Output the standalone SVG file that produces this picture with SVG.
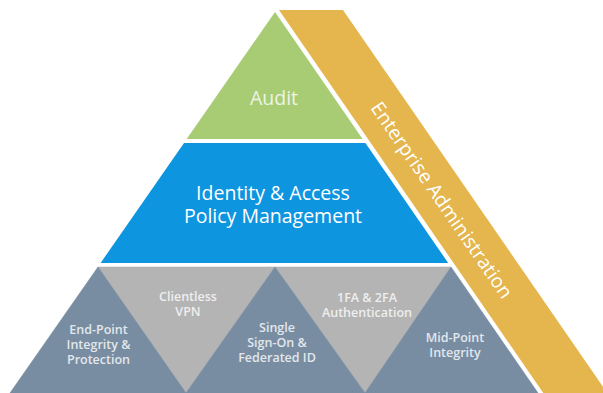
<svg xmlns="http://www.w3.org/2000/svg" width="603" height="393" viewBox="0 0 603 393">
<style>
.t{font-family:"Open Sans","Noto Sans","Liberation Sans",sans-serif;text-anchor:middle}
.big{font-size:19.5px;fill:#ffffff}
.aud{font-size:19.5px;fill:#eef4e4}
.sm{font-size:12.5px;font-weight:600}
.onslate{fill:#e2e7ec}
.ongray{fill:#eeeeee}
.green{fill:#a7cc74}
.blue{fill:#0e95e0}
.slate{fill:#788da2;stroke:#788da2;stroke-width:0.6}
.gray{fill:#b4b4b4;stroke:#b4b4b4;stroke-width:0.6}
.gold{fill:#e4b64d}
</style>
<rect width="603" height="393" fill="#ffffff"/>
<g id="enterprise-administration">
<polygon class="gold" points="279,10 343,10 607.3,393 543.3,393"/>
<text class="t big" transform="translate(442,200) rotate(55.4)" y="7">Enterprise Administration</text>
</g>
<g id="audit">
<polygon class="green" points="275,12 362.6,139 186.7,139"/>
<text class="t aud" x="274" y="104.5">Audit</text>
</g>
<g id="identity-access">
<polygon class="blue" points="184,143 365.4,143 448.2,263 100.6,263"/>
<text class="t big" x="273" y="200"><tspan x="273">Identity &amp; Access</tspan><tspan x="273" dy="23">Policy Management</tspan></text>
</g>
<g id="clientless-vpn">
<polygon class="gray" points="98,267 275,267 186,393"/>
<text class="t sm ongray" x="188" y="301"><tspan x="188">Clientless</tspan><tspan x="188" dy="15">VPN</tspan></text>
</g>
<g id="authentication">
<polygon class="gray" points="275,267 451,267 365,393"/>
<text class="t sm ongray" x="367" y="301.5"><tspan x="367">1FA &amp; 2FA</tspan><tspan x="367" dy="15">Authentication</tspan></text>
</g>
<g id="end-point">
<polygon class="slate" points="98,267 186,393 10,393"/>
<text class="t sm onslate" x="98.5" y="333.5"><tspan x="98.5">End-Point</tspan><tspan x="98.5" dy="15">Integrity &amp;</tspan><tspan x="98.5" dy="15">Protection</tspan></text>
</g>
<g id="single-sign-on">
<polygon class="slate" points="275,267 365,393 186,393"/>
<text class="t sm onslate" x="277" y="331.5"><tspan x="277">Single</tspan><tspan x="277" dy="15">Sign-On &amp;</tspan><tspan x="277" dy="15">Federated ID</tspan></text>
</g>
<g id="mid-point">
<polygon class="slate" points="451,267 538,393 365,393"/>
<text class="t sm onslate" x="455" y="342"><tspan x="455">Mid-Point</tspan><tspan x="455" dy="15">Integrity</tspan></text>
</g>
<g id="connectors"></g>
</svg>
